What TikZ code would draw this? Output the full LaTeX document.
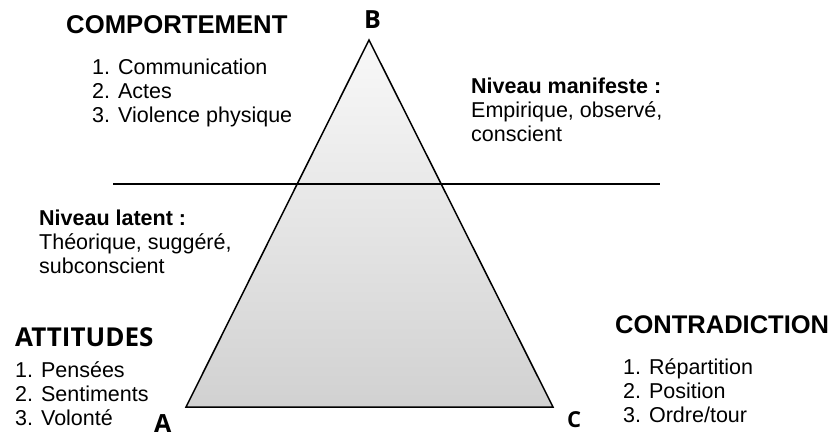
\documentclass[tikz,border=0pt]{standalone}
\usepackage{fontspec}
\setmainfont{Liberation Sans}
\newfontfamily\cornerfont{Open Sans}
\tikzset{
  title/.style={font=\fontsize{25.7}{30}\selectfont\bfseries, inner sep=0pt, anchor=base west},
  items/.style={font=\fontsize{21.5}{24}\selectfont, align=left, inner sep=0pt, anchor=base west},
  corner/.style={font=\fontsize{25}{30}\selectfont\cornerfont\bfseries, inner sep=0pt, anchor=base west}
}
\begin{document}
\begin{tikzpicture}[x=1pt,y=-1pt]
  \useasboundingbox (0,0) rectangle (834,437);

  % Corners of the triangle
  \coordinate (A) at (186,407);
  \coordinate (B) at (369,40);
  \coordinate (C) at (553,407);

  % Shaded triangle
  \shade[top color=gray!5, bottom color=gray!36] (A) -- (B) -- (C) -- cycle;
  \draw[line width=1.5pt] (A) -- (B) -- (C) -- cycle;

  % Line between the two levels
  \coordinate (lineL) at (113,184);
  \coordinate (lineR) at (660,184);
  \draw[line width=1.1pt] (lineL) -- (lineR);

  % Corner letters
  \node[corner] (labA) at (154,432) {A};
  \node[corner] (labB) at (364,28) {B};
  \node[corner, font=\fontsize{22}{26}\selectfont\cornerfont\bfseries] (labC) at (567,427) {C};

  % Comportement (anchors at the last line of each list)
  \node[title] (comp) at (66,33) {COMPORTEMENT};
  \node[items] (compItems) at (92,122) {1. Communication\\2. Actes\\3. Violence physique};

  % Levels
  \node[items] (manif) at (471,141) {\textbf{Niveau manifeste :}\\Empirique, observé,\\conscient};
  \node[items] (latent) at (39,273) {\textbf{Niveau latent :}\\Théorique, suggéré,\\subconscient};

  % Attitudes
  \node[corner, font=\fontsize{26}{30}\selectfont\cornerfont\bfseries] (att) at (15,346) {ATTITUDES};
  \node[items] (attItems) at (15,425) {1. Pensées\\2. Sentiments\\3. Volonté};

  % Contradiction
  \node[title, font=\fontsize{25.5}{30}\selectfont\bfseries] (contra) at (615,333) {CONTRADICTION};
  \node[items] (contraItems) at (623,422) {1. Répartition\\2. Position\\3. Ordre/tour};
\end{tikzpicture}
\end{document}
